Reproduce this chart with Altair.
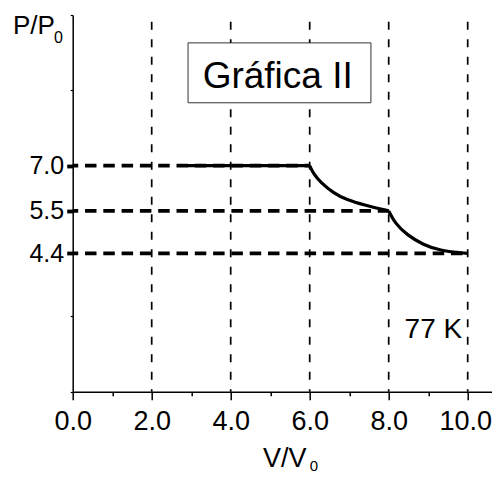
import altair as alt
import pandas as pd
import numpy as np

# ---------------- data ----------------
vlines_V = [2.0, 4.0, 6.0, 8.0, 10.0]
level_P = [7.0, 5.5, 4.4]
level_end_V = [6.0, 8.0, 10.0]
flat_V = [2.9, 6.0]
flat_P = [7.0, 7.0]
iso1_V = [6.0, 6.1, 6.26, 6.60, 6.94, 7.36, 8.0]
iso1_P = [7.0, 6.72, 6.47, 6.09, 5.87, 5.70, 5.5]
iso2_V = [8.0, 8.16, 8.46, 8.88, 9.30, 10.0]
iso2_P = [5.5, 5.18, 4.88, 4.62, 4.47, 4.4]
x_tick_values = list(range(0, 11))
title_text = "Gráfica II"
temp_text = "77 K"

# annotation placement (data coordinates)
box_V = [2.92, 7.55]
box_P = [8.67, 10.26]
title_pos = (5.19, 9.07)
temp_pos = (9.86, 1.71)

# ---------------- layout / scales ----------------
FONT = "Liberation Sans"
PX_PER_V = 39.5
W = 419.3
H = 376.7
X_MAX = W / PX_PER_V
u_knots = [0.0, 3.67, 4.80, 6.0, 10.0]      # schematic (frame-unit) positions
P_knots = [0.0, 4.4, 5.5, 7.0, 11.0]
y_range = [H - u * H / 10.0 for u in u_knots]

frame_ticks = [float(np.interp(u, u_knots, P_knots)) for u in range(0, 11)]
y_tick_values = sorted(set(round(v, 4) for v in frame_ticks + level_P))

xs = alt.Scale(domain=[0, X_MAX], nice=False, zero=False)
ys = alt.Scale(domain=P_knots, range=y_range, nice=False, zero=False)

lab_test = "abs(datum.value-7)<0.001 || abs(datum.value-5.5)<0.001 || abs(datum.value-4.4)<0.001"

xaxis = alt.Axis(
    values=x_tick_values,
    labelExpr="datum.value % 2 === 0 ? format(datum.value, '.1f') : ''",
    tickSize={"condition": {"test": "datum.value % 2 === 0", "value": 8}, "value": 4},
    labelOffset={"condition": {"test": "datum.value === 10", "value": -2.5}, "value": 0},
    tickWidth=1.5, tickColor="black", domainColor="black", domainWidth=1.6,
    labelFont=FONT, labelFontSize=27, labelColor="black", labelPadding=9,
    labelFlush=False, labelOverlap=False, grid=False, title=None,
)
yaxis = alt.Axis(
    values=y_tick_values,
    labelExpr=f"({lab_test}) ? format(datum.value, '.1f') : ''",
    tickSize={"condition": {"test": lab_test, "value": 6}, "value": 2.5},
    tickWidth={"condition": {"test": lab_test, "value": 3.8}, "value": 1.2},
    tickColor="black", domainColor="black", domainWidth=1.5,
    labelFont=FONT, labelFontSize=25, labelColor="black", labelPadding=3,
    labelFlush=False, labelOverlap=False, grid=False, title=None,
)

# ---------------- tables ----------------
vdf = pd.DataFrame({"V": vlines_V, "top": P_knots[-1], "bot": P_knots[0]})
hdf = pd.DataFrame({"start": 0.0, "end": level_end_V, "P": level_P})
cdf = pd.concat([
    pd.DataFrame({"V": flat_V, "P": flat_P, "seg": "flat"}),
    pd.DataFrame({"V": iso1_V, "P": iso1_P, "seg": "iso1"}),
    pd.DataFrame({"V": iso2_V, "P": iso2_P, "seg": "iso2"}),
])
boxdf = pd.DataFrame({"V1": [box_V[0]], "V2": [box_V[1]], "P1": [box_P[0]], "P2": [box_P[1]]})
tdf = pd.DataFrame({"V": [title_pos[0]], "P": [title_pos[1]], "t": [title_text]})
kdf = pd.DataFrame({"V": [temp_pos[0]], "P": [temp_pos[1]], "t": [temp_text]})

vlines = alt.Chart(vdf).mark_rule(
    color="black", strokeWidth=1.7, strokeDash=[8, 9.5], strokeDashOffset=10.8
).encode(
    x=alt.X("V:Q", scale=xs, axis=xaxis),
    y=alt.Y("top:Q", scale=ys, axis=yaxis),
    y2="bot:Q",
)

hlines = alt.Chart(hdf).mark_rule(
    color="black", strokeWidth=3.8, strokeDash=[11.5, 6.8], strokeDashOffset=6
).encode(
    x=alt.X("start:Q", scale=xs), x2="end:Q",
    y=alt.Y("P:Q", scale=ys),
)

curve = alt.Chart(cdf).mark_line(
    color="black", strokeWidth=3.2, interpolate="basis"
).encode(
    x=alt.X("V:Q", scale=xs), y=alt.Y("P:Q", scale=ys), detail="seg:N",
    order=alt.Order("V:Q"),
)

box = alt.Chart(boxdf).mark_rect(fill="white", stroke="#333333", strokeWidth=1).encode(
    x=alt.X("V1:Q", scale=xs), x2="V2:Q",
    y=alt.Y("P1:Q", scale=ys), y2="P2:Q",
)

title = alt.Chart(tdf).mark_text(
    font=FONT, fontSize=37, color="black", align="center", baseline="alphabetic"
).encode(x=alt.X("V:Q", scale=xs), y=alt.Y("P:Q", scale=ys), text="t:N")

temp = alt.Chart(kdf).mark_text(
    font=FONT, fontSize=28, color="black", align="right", baseline="alphabetic"
).encode(x=alt.X("V:Q", scale=xs), y=alt.Y("P:Q", scale=ys), text="t:N")

# axis titles with lowered subscripts (pixel positions relative to plot origin)
def label(txt, x, y, size):
    return alt.Chart(pd.DataFrame({"t": [txt]})).mark_text(
        font=FONT, fontSize=size, color="black", align="left", baseline="alphabetic"
    ).encode(x=alt.value(x), y=alt.value(y), text="t:N")

ylab = label("P/P", -59.7, 19.3, 26)
ysub = label("0", -18.7, 28.3, 16)
xlab = label("V/V", 190.3, 452, 27)
xsub = label("0", 237, 455.5, 15)

chart = alt.layer(
    vlines, hlines, curve, box, title, temp, ylab, ysub, xlab, xsub
).properties(
    width=W, height=H,
    autosize=alt.AutoSizeParams(type="none"),
    padding={"left": 64.7, "top": 7, "right": 0, "bottom": 80.3},
).configure_view(stroke=None)

chart.save("out.html", embed_options={"renderer": "svg", "actions": False})
